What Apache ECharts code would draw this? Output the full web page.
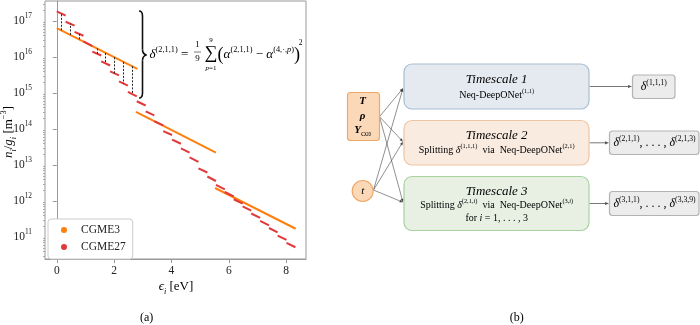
<!DOCTYPE html>
<html>
<head>
<meta charset="utf-8">
<script src="https://cdn.jsdelivr.net/npm/echarts@6.0.0/dist/echarts.min.js"></script>
<style>
	html, body { margin: 0; padding: 0; background: #fff; }
	#chart { width: 700px; height: 325px; }
</style>
</head>
<body>
<div id="chart"></div>
<script>
// energy bin edges of the 27 CGME27 groups [eV]
var binEdges = [0, 0.31, 0.62, 0.93, 1.24, 1.55, 1.86, 2.17, 2.48, 2.79,
	3.10, 3.40, 3.71, 4.02, 4.33, 4.63, 4.94, 5.25, 5.55,
	5.86, 6.17, 6.48, 6.78, 7.09, 7.40, 7.70, 8.01, 8.32];
// CGME27: n_i/g_i at the start and end of each bin [m^-3]
var cgme27Start = [1.86e17, 9.5e16, 5.0e16, 2.7e16, 1.41e16, 7.6e15, 4.0e15, 2.1e15, 1.07e15,
	5.9e14, 3.1e14, 1.66e14, 8.7e13, 5.1e13, 2.9e13, 1.62e13, 8.1e12, 4.8e12,
	2.8e12, 1.78e12, 1.12e12, 7.1e11, 4.5e11, 2.8e11, 1.78e11, 1.10e11, 6.9e10];
var cgme27End = [1.41e17, 7.4e16, 3.9e16, 2.0e16, 1.10e16, 5.8e15, 3.1e15, 1.6e15, 8.1e14,
	4.5e14, 2.4e14, 1.26e14, 6.8e13, 3.9e13, 2.2e13, 1.23e13, 6.2e12, 3.6e12,
	2.1e12, 1.35e12, 8.5e11, 5.4e11, 3.4e11, 2.1e11, 1.35e11, 8.3e10, 5.2e10];
// CGME3: three groups, start / end energy and value
var cgme3X = [[0, 2.81], [2.76, 5.55], [5.52, 8.33]];
var cgme3Y = [[6.3e16, 4.7e15], [3.0e14, 2.2e13], [2.3e12, 1.7e11]];
// dashed differences alpha(2,1,1) - alpha(4,.,p)
var deltaX = [0.155, 0.465, 0.775, 1.395, 1.705, 2.015, 2.325, 2.635];
var deltaOrange = [5.5e16, 4.1e16, 3.1e16, 1.74e16, 1.29e16, 9.8e15, 7.3e15, 5.5e15];
var deltaRed = [1.62e17, 8.4e16, 4.4e16, 1.24e16, 6.6e15, 3.5e15, 1.82e15, 9.3e14];
// axis ticks
var xTicks = [0, 2, 4, 6, 8];
var yDecades = [11, 12, 13, 14, 15, 16, 17];

var ORANGE = '#ff7f0e';
var RED = '#e0383b';
var SERIF = '"Liberation Serif", "DejaVu Serif", serif';

function rich(size) {
	var L = Math.round(size * 1.35);
	return {
		r: { fontSize: size, fontFamily: SERIF, color: '#222', lineHeight: L },
		i: { fontSize: size, fontFamily: SERIF, fontStyle: 'italic', color: '#222', lineHeight: L },
		bi: { fontSize: size, fontFamily: SERIF, fontStyle: 'italic', fontWeight: 'bold', color: '#222', lineHeight: L },
		P: { fontSize: size * 1.4, fontFamily: SERIF, color: '#222', lineHeight: L },
		s: { fontSize: size * 0.64, fontFamily: SERIF, color: '#222', lineHeight: size * 0.5, verticalAlign: 'top' },
		si: { fontSize: size * 0.64, fontFamily: SERIF, fontStyle: 'italic', color: '#222', lineHeight: size * 0.5, verticalAlign: 'top' },
		d: { fontSize: size * 0.64, fontFamily: SERIF, fontStyle: 'italic', color: '#222', lineHeight: size * 0.9, verticalAlign: 'bottom' },
		dr: { fontSize: size * 0.64, fontFamily: SERIF, color: '#222', lineHeight: size * 0.9, verticalAlign: 'bottom' },
		dd: { fontSize: size * 0.48, fontFamily: SERIF, color: '#222', lineHeight: size * 0.6, verticalAlign: 'bottom' }
	};
}

function txt(x, y, text, size, align) {
	return {
		type: 'text', x: x, y: y, z: 20,
		style: { text: text, rich: rich(size), align: align || 'center', verticalAlign: 'middle' }
	};
}

function box(x, y, w, h, r, fill, stroke) {
	return {
		type: 'rect', z: 10,
		shape: { x: x, y: y, width: w, height: h, r: r },
		style: { fill: fill, stroke: stroke, lineWidth: 1.2 }
	};
}

function arrow(x1, y1, x2, y2, head, color, w) {
	var a = Math.atan2(y2 - y1, x2 - x1);
	var hx = x2 - head * Math.cos(a), hy = y2 - head * Math.sin(a);
	var wx = head * 0.4 * Math.sin(a), wy = head * 0.4 * Math.cos(a);
	return [{
		type: 'line', z: 5,
		shape: { x1: x1, y1: y1, x2: hx, y2: hy },
		style: { stroke: color, lineWidth: w }
	}, {
		type: 'polygon', z: 5,
		shape: { points: [[x2, y2], [hx + wx, hy - wy], [hx - wx, hy + wy]] },
		style: { fill: color }
	}];
}

function curve(x1, y1, cx, cy, x2, y2) {
	return {
		type: 'bezierCurve', z: 20,
		shape: { x1: x1, y1: y1, cpx1: cx, cpy1: cy, x2: x2, y2: y2 },
		style: { fill: null, stroke: '#111', lineWidth: 1.6 }
	};
}

function seg(x1, y1, x2, y2, color, w) {
	return {
		type: 'line', z: 20,
		shape: { x1: x1, y1: y1, x2: x2, y2: y2 },
		style: { stroke: color, lineWidth: w }
	};
}

var myChart = echarts.init(document.getElementById('chart'));

var redLines = [];
for (var k = 0; k < cgme27Start.length; k++) {
	redLines.push({ coords: [[binEdges[k], Math.log10(cgme27Start[k])], [binEdges[k + 1], Math.log10(cgme27End[k])]] });
}
var orangeLines = [];
for (var g = 0; g < cgme3X.length; g++) {
	orangeLines.push({ coords: [[cgme3X[g][0], Math.log10(cgme3Y[g][0])], [cgme3X[g][1], Math.log10(cgme3Y[g][1])]] });
}
var deltaLines = [];
for (var d = 0; d < deltaX.length; d++) {
	deltaLines.push({ coords: [[deltaX[d], Math.log10(deltaOrange[d])], [deltaX[d], Math.log10(deltaRed[d])]] });
}
var minorTicks = [];
for (var n = 10; n <= 17; n++) {
	for (var m = 2; m <= 9; m++) {
		var v = n + Math.log10(m);
		if (v > 10.39 && v < 17.555) minorTicks.push(v);
	}
}

// diagram (b)
var graphics = [];
graphics.push(box(347.5, 92.5, 32, 48, 3, '#fad8b8', '#f0a868'));
graphics.push({ type: 'circle', z: 10, shape: { cx: 362.7, cy: 191, r: 10.5 }, style: { fill: '#fad8b8', stroke: '#f0a868', lineWidth: 1.2 } });
graphics.push(box(404, 64, 185, 45, 8, '#e5eaf0', '#a7bdd3'));
graphics.push(box(404, 120.5, 185, 44.5, 8, '#f9ebe0', '#efc4a0'));
graphics.push(box(404, 176.5, 185, 54, 8, '#e7f0e3', '#a9d2a0'));
graphics.push(box(632.5, 75, 42.5, 23.5, 3, '#ececec', '#b3b3b3'));
graphics.push(box(609.5, 131, 89.5, 23.5, 3, '#ececec', '#b3b3b3'));
graphics.push(box(609.5, 191.5, 89.5, 24, 3, '#ececec', '#b3b3b3'));
var targets = [[403, 88.3], [403, 141.7], [403, 202.3]];
targets.forEach(function(t) {
	graphics = graphics.concat(arrow(379.5, 116.7, t[0], t[1], 3.5, '#444', 0.6));
	graphics = graphics.concat(arrow(373.5, 190, t[0], t[1], 3.5, '#444', 0.6));
});
graphics = graphics.concat(arrow(589.5, 86.5, 632, 86.5, 4, '#555', 0.8));
graphics = graphics.concat(arrow(589.5, 142.8, 609, 142.8, 4, '#555', 0.8));
graphics = graphics.concat(arrow(589.5, 203.5, 609, 203.5, 4, '#555', 0.8));
graphics.push(txt(362.7, 101, '{bi|T}', 11));
graphics.push(txt(362.7, 115.7, '{bi|ρ}', 11));
graphics.push(txt(362.7, 130, '{bi|Y}{dr|O}{dd|20}', 11));
graphics.push(txt(362.7, 191, '{i|t}', 11));
graphics.push(txt(496.7, 79.3, '{i|Timescale 1}', 13));
graphics.push(txt(496.7, 95, '{r|Neq-DeepONet}{s|(1,1)}', 10));
graphics.push(txt(496.7, 136, '{i|Timescale 2}', 13));
graphics.push(txt(496.7, 150.5, '{r|Splitting }{i|δ}{s|(1,1,1)}{r|  via  Neq-DeepONet}{s|(2,1)}', 10));
graphics.push(txt(496.7, 191.7, '{i|Timescale 3}', 13));
graphics.push(txt(496.7, 205.7, '{r|Splitting }{i|δ}{s|(2,1,}{si|i}{s|)}{r|  via  Neq-DeepONet}{s|(3,}{si|i}{s|)}', 10));
graphics.push(txt(496.7, 218, '{r|for }{i|i}{r| = 1, . . . , 3}', 10));
graphics.push(txt(653.8, 87, '{i|δ}{s|(1,1,1)}', 12));
graphics.push(txt(654.5, 143, '{i|δ}{s|(2,1,1)}{r|, . . . , }{i|δ}{s|(2,1,3)}', 12));
graphics.push(txt(654.5, 204, '{i|δ}{s|(3,1,1)}{r|, . . . , }{i|δ}{s|(3,3,9)}', 12));
graphics.push(txt(516.7, 318, '{r|(b)}', 12));

// annotations of (a): brace and formula
graphics.push(curve(139, 11, 142.5, 11, 142.5, 16));
graphics.push(seg(142.5, 16, 142.5, 49.5, '#111', 1.6));
graphics.push(curve(142.5, 49.5, 142.5, 54, 146.5, 55));
graphics.push(curve(146.5, 55, 142.5, 56, 142.5, 60.5));
graphics.push(seg(142.5, 60.5, 142.5, 93, '#111', 1.6));
graphics.push(curve(142.5, 93, 142.5, 98, 139, 98));
graphics.push(txt(149.5, 55, '{i|δ}{s|(2,1,1)}{r| =}', 13, 'left'));
graphics.push(txt(197.5, 45, '{r|1}', 9));
graphics.push(seg(194, 52, 201, 52, '#222', 0.6));
graphics.push(txt(197.5, 59, '{r|9}', 9));
graphics.push(txt(211, 53, '{r|∑}', 18));
graphics.push(txt(211, 40, '{r|9}', 7));
graphics.push(txt(211, 68, '{i|p}{r|=1}', 7));
graphics.push(txt(217.5, 55, '{P|(}{i|α}{s|(2,1,1)}{r| − }{i|α}{s|(4,·,}{si|p}{s|)}{P|)}', 13, 'left'));
graphics.push(txt(300.5, 43, '{r|2}', 7.5));
graphics.push({
	type: 'text', x: 9, y: 132, rotation: Math.PI / 2, z: 20,
	style: { text: '{i|n}{d|i}{r|/}{i|g}{d|i}{r| [m}{s|−3}{r|]}', rich: rich(13), align: 'center', verticalAlign: 'middle' }
});
graphics.push(txt(176, 287, '{i|ϵ}{d|i}{r| [eV]}', 13));
graphics.push(txt(146.7, 318, '{r|(a)}', 12));

var option = {
	animation: false,
	grid: {
		left: 45, right: 394, top: 1, bottom: 66,
		show: true, borderColor: '#999', borderWidth: 1
	},
	legend: {
		orient: 'vertical',
		left: 48, top: 219,
		padding: [5, 7, 6, 13],
		itemGap: 5,
		itemWidth: 4, itemHeight: 4,
		icon: 'circle',
		borderColor: '#ccc', borderWidth: 1, borderRadius: 3,
		backgroundColor: '#fff',
		textStyle: { fontFamily: SERIF, fontSize: 11.5, color: '#222', padding: [0, 0, 0, 10] },
		data: [
			{ name: 'CGME3', itemStyle: { color: ORANGE } },
			{ name: 'CGME27', itemStyle: { color: RED } }
		]
	},
	xAxis: {
		type: 'value', min: -0.41, max: 8.69,
		axisLine: { show: true, lineStyle: { color: '#999' } },
		axisTick: { show: true, customValues: xTicks, length: 4, lineStyle: { color: '#999' } },
		axisLabel: { customValues: xTicks, margin: 6, fontFamily: SERIF, fontSize: 11.5, color: '#222' },
		splitLine: { show: false }
	},
	yAxis: [{
		type: 'value', min: 10.39, max: 17.555,
		axisLine: { show: true, lineStyle: { color: '#999' } },
		axisTick: { show: true, customValues: yDecades, length: 4, lineStyle: { color: '#999' } },
		axisLabel: {
			customValues: yDecades, margin: 13,
			formatter: function(val) { return '{r|10}{s|' + Math.round(val) + '}'; },
			rich: rich(11.5)
		},
		splitLine: { show: false }
	}, {
		type: 'value', min: 10.39, max: 17.555, position: 'left',
		axisLine: { show: false },
		axisTick: { show: true, customValues: minorTicks, length: 2, lineStyle: { color: '#aaa' } },
		axisLabel: { show: false },
		splitLine: { show: false }
	}],
	series: [{
		name: 'CGME3', type: 'lines', coordinateSystem: 'cartesian2d',
		xAxisIndex: 0, yAxisIndex: 0, z: 2,
		lineStyle: { color: ORANGE, width: 2, opacity: 1 },
		itemStyle: { color: ORANGE },
		data: orangeLines
	}, {
		name: 'CGME27', type: 'lines', coordinateSystem: 'cartesian2d',
		xAxisIndex: 0, yAxisIndex: 0, z: 3,
		lineStyle: { color: RED, width: 2, opacity: 1 },
		itemStyle: { color: RED },
		data: redLines
	}, {
		name: 'delta', type: 'lines', coordinateSystem: 'cartesian2d',
		xAxisIndex: 0, yAxisIndex: 0, z: 4,
		lineStyle: { color: '#222', width: 1, type: [2, 1.5], opacity: 1 },
		data: deltaLines
	}],
	graphic: graphics
};
myChart.setOption(option);
</script>
</body>
</html>
